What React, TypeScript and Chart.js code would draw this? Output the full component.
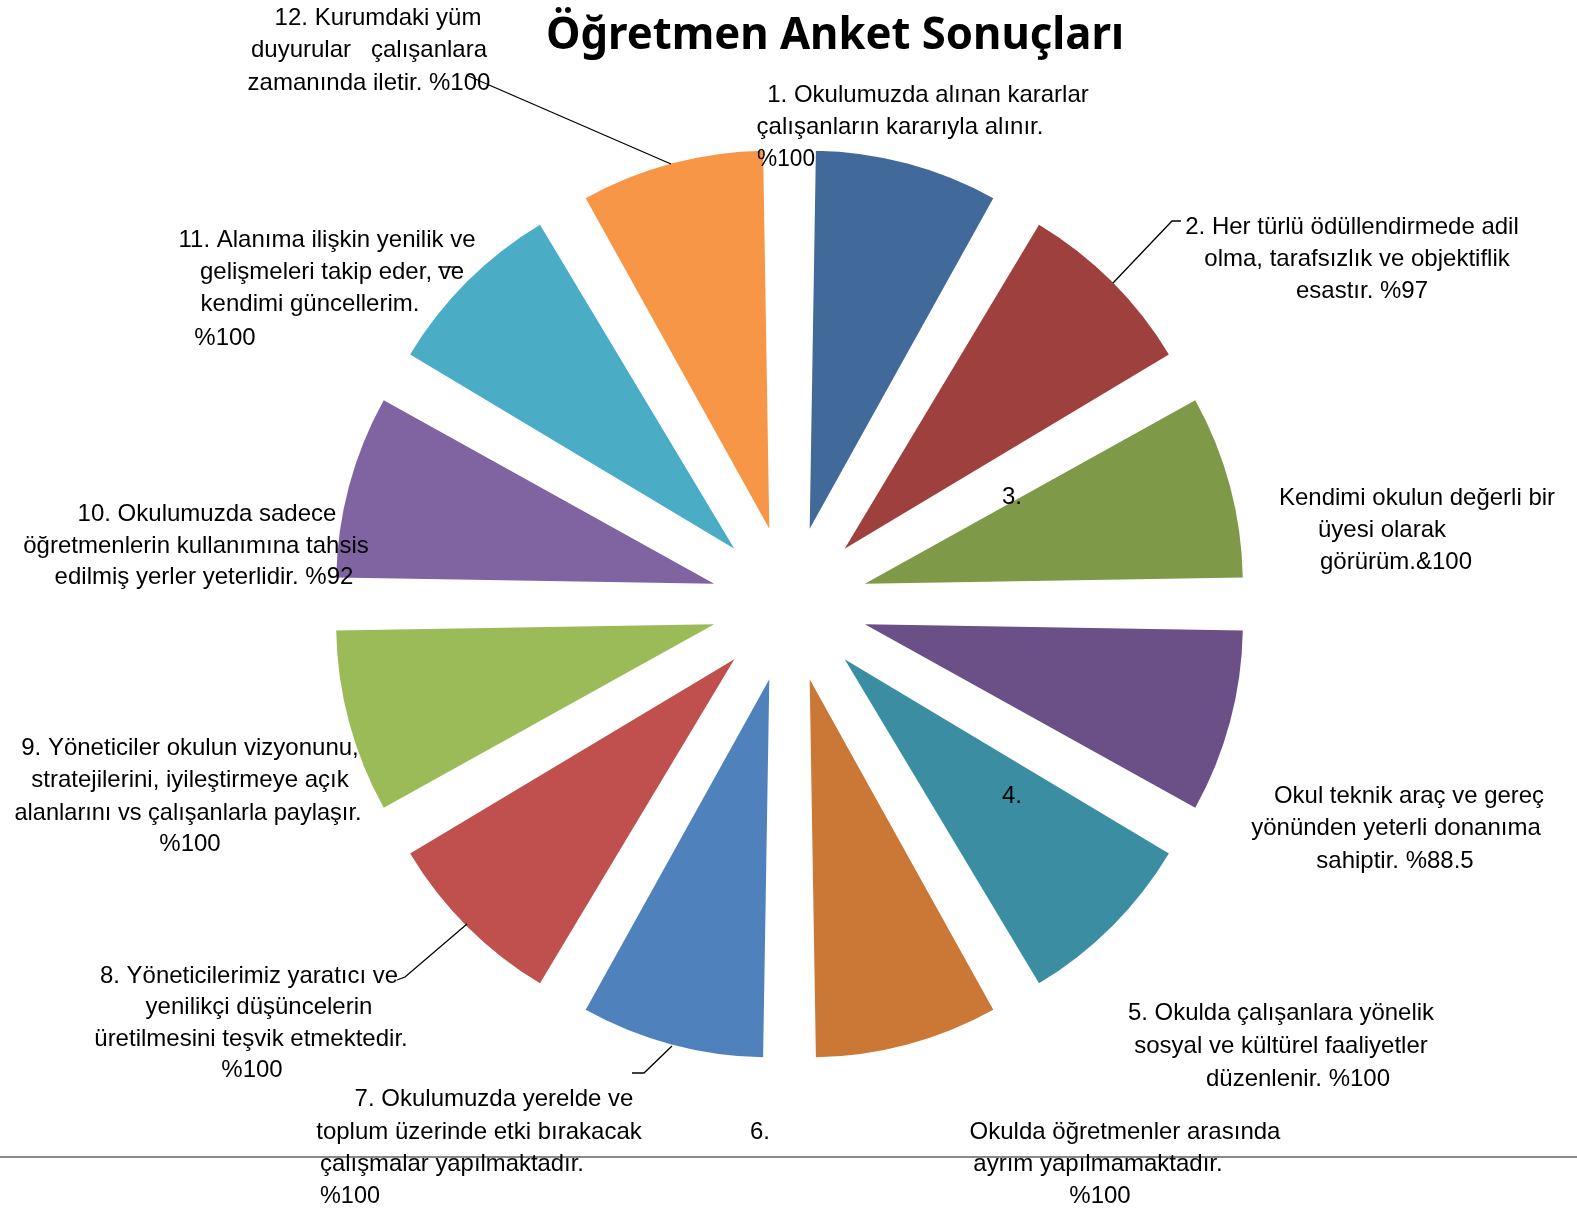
import React, { useEffect, useRef } from "react";
import { Chart, registerables } from "chart.js";

Chart.register(...registerables);

// ---- data ----
const chartTitle = "Öğretmen Anket Sonuçları";

const categories = [
  "1. Okulumuzda alınan kararlar çalışanların kararıyla alınır.",
  "2. Her türlü ödüllendirmede adil olma, tarafsızlık ve objektiflik esastır.",
  "3. Kendimi okulun değerli bir üyesi olarak görürüm.",
  "4. Okul teknik araç ve gereç yönünden yeterli donanıma sahiptir.",
  "5. Okulda çalışanlara yönelik sosyal ve kültürel faaliyetler düzenlenir.",
  "6. Okulda öğretmenler arasında ayrım yapılmamaktadır.",
  "7. Okulumuzda yerelde ve toplum üzerinde etki bırakacak çalışmalar yapılmaktadır.",
  "8. Yöneticilerimiz yaratıcı ve yenilikçi düşüncelerin üretilmesini teşvik etmektedir.",
  "9. Yöneticiler okulun vizyonunu, stratejilerini, iyileştirmeye açık alanlarını vs çalışanlarla paylaşır.",
  "10. Okulumuzda sadece öğretmenlerin kullanımına tahsis edilmiş yerler yeterlidir.",
  "11. Alanıma ilişkin yenilik ve gelişmeleri takip eder, ve kendimi güncellerim.",
  "12. Kurumdaki yüm duyurular çalışanlara zamanında iletir.",
];

// every slice is drawn the same size in the picture
const sliceValues = [1, 1, 1, 1, 1, 1, 1, 1, 1, 1, 1, 1];

const scoreTexts = ["%100", "%97", "&100", "%88.5", "%100", "%100", "%100", "%100", "%100", "%92", "%100", "%100"];

const sliceColors = [
  "#41699A", "#9E403D", "#7E9A48", "#6A5087", "#3B8EA2", "#CB7837",
  "#4F81BD", "#C0504D", "#9BBB59", "#8064A2", "#4BACC6", "#F79646",
];

// label text, line by line, as printed
const labelLines: string[][] = [
  ["1. Okulumuzda alınan kararlar", "çalışanların kararıyla alınır.", scoreTexts[0]],
  ["2. Her türlü ödüllendirmede adil", "olma, tarafsızlık ve objektiflik", "esastır. " + scoreTexts[1]],
  ["3.", "Kendimi okulun değerli bir", "üyesi olarak", "görürüm." + scoreTexts[2]],
  ["4.", "Okul teknik araç ve gereç", "yönünden yeterli donanıma", "sahiptir. " + scoreTexts[3]],
  ["5. Okulda çalışanlara yönelik", "sosyal ve kültürel faaliyetler", "düzenlenir. " + scoreTexts[4]],
  ["6.", "Okulda öğretmenler arasında", "ayrım yapılmamaktadır.", scoreTexts[5]],
  ["7. Okulumuzda yerelde ve", "toplum üzerinde etki bırakacak", "çalışmalar yapılmaktadır.", scoreTexts[6]],
  ["8. Yöneticilerimiz yaratıcı ve", "yenilikçi düşüncelerin", "üretilmesini teşvik etmektedir.", scoreTexts[7]],
  ["9. Yöneticiler okulun vizyonunu,", "stratejilerini, iyileştirmeye açık", "alanlarını vs çalışanlarla paylaşır.", scoreTexts[8]],
  ["10. Okulumuzda sadece", "öğretmenlerin kullanımına tahsis", "edilmiş yerler yeterlidir. " + scoreTexts[9]],
  ["11. Alanıma ilişkin yenilik ve", "gelişmeleri takip eder, ve", "kendimi güncellerim.", scoreTexts[10]],
  ["12. Kurumdaki yüm", "duyurular   çalışanlara", "zamanında iletir. " + scoreTexts[11]],
];

// ---- layout (positions of each label line: centre x, baseline y, max width) ----
const labelLayout: number[][][] = [
  [[928, 102, 329], [900, 134, 287], [786, 166, 58]],
  [[1352, 234, 346], [1357, 266, 324], [1362, 298, 146]],
  [[1012, 504, 20], [1417, 505, 300], [1382, 537, 130], [1396, 569, 168]],
  [[1012, 803, 20], [1409, 803, 270], [1396, 835, 296], [1395, 868, 177]],
  [[1281, 1020, 306], [1281, 1053, 300], [1298, 1086, 206]],
  [[760, 1139, 20], [1125, 1139, 340], [1098, 1171, 277], [1100, 1203, 65]],
  [[494, 1106, 308], [479, 1139, 333], [452, 1171, 264], [350, 1203, 60]],
  [[249, 983, 298], [259, 1014, 246], [251, 1046, 348], [252, 1077, 66]],
  [[190, 755, 347], [190, 787, 351], [188, 820, 347], [190, 851, 66]],
  [[207, 521, 286], [196, 553, 364], [204, 584, 332]],
  [[327, 247, 300], [332, 279, 280], [310, 311, 237], [225, 345, 67]],
  [[378, 25, 226], [369, 57, 244], [369, 90, 244]],
];

const leaderLines: number[][][] = [
  [[1181, 221], [1172, 221], [1113, 283]],
  [[466, 75], [671, 164]],
  [[438, 267], [460, 267]],
  [[397, 980], [405, 977], [467, 924]],
  [[632, 1073], [644, 1073], [672, 1046]],
];

const decorPlugin = {
  id: "decor",
  afterDraw(chart: any) {
    const ctx: CanvasRenderingContext2D = chart.ctx;
    ctx.save();
    // bottom rule
    ctx.strokeStyle = "#8a8a8a";
    ctx.lineWidth = 2;
    ctx.beginPath();
    ctx.moveTo(0, 1157);
    ctx.lineTo(1577, 1157);
    ctx.stroke();

    // leader lines
    ctx.strokeStyle = "#000";
    ctx.lineWidth = 1.3;
    leaderLines.forEach((pts) => {
      ctx.beginPath();
      pts.forEach((p, i) => (i === 0 ? ctx.moveTo(p[0], p[1]) : ctx.lineTo(p[0], p[1])));
      ctx.stroke();
    });

    // title
    ctx.fillStyle = "#000";
    ctx.textAlign = "center";
    ctx.textBaseline = "alphabetic";
    ctx.font = "bold 45px 'Noto Sans'";
    ctx.fillText(chartTitle, 835, 49, 578);

    // labels
    ctx.font = "24px 'Liberation Sans'";
    labelLines.forEach((lines, i) => {
      lines.forEach((txt, j) => {
        const [cx, by, w] = labelLayout[i][j];
        ctx.fillText(txt, cx, by, w);
      });
    });
    ctx.restore();
  },
};

export default function App() {
  const canvasRef = useRef<HTMLCanvasElement | null>(null);

  useEffect(() => {
    if (!canvasRef.current) return;
    const chart = new Chart(canvasRef.current, {
      type: "pie",
      data: {
        labels: categories,
        datasets: [
          {
            data: sliceValues,
            backgroundColor: sliceColors,
            borderWidth: 0,
            offset: 312,
            hoverOffset: 0,
          },
        ],
      },
      options: {
        responsive: false,
        maintainAspectRatio: false,
        animation: false,
        radius: 339,
        layout: { padding: { left: 2, right: 0, top: 0, bottom: 2 } },
        plugins: {
          legend: { display: false },
          title: { display: false },
          tooltip: { enabled: false },
        },
        events: [],
      },
      plugins: [decorPlugin],
    });
    return () => chart.destroy();
  }, []);

  return (
    <div style={{ position: "absolute", left: 0, top: 0, width: 1577, height: 1210, background: "#fff" }}>
      <canvas ref={canvasRef} width={1577} height={1210} style={{ display: "block" }} />
    </div>
  );
}
